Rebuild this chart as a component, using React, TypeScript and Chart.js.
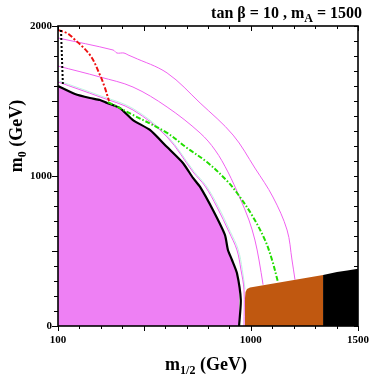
import React, { useEffect, useRef } from "react";
import { Chart, registerables } from "chart.js";

Chart.register(...registerables);

// ---- axes ----
const X_MIN = 100;
const X_MAX = 1500;
const Y_MIN = 0;
const Y_MAX = 2000;
const TICK_STEP = 100;
const xTickLabels = [100, 1000, 1500];
const yTickLabels = [0, 1000, 2000];

// ---- excluded (magenta) region, black boundary ----
const boundaryX = [100, 179, 249, 296, 329, 389, 450, 529, 609, 683, 730, 763, 823, 879, 893, 912, 935, 953, 945];
const boundaryY = [1600, 1547, 1520, 1507, 1487, 1453, 1373, 1307, 1193, 1087, 987, 927, 773, 607, 507, 440, 353, 173, 0];

// ---- thin magenta contours ----
const innerX = [100, 296, 450, 609, 730, 786, 842, 898, 935, 954, 968, 968];
const innerY = [1627, 1527, 1440, 1260, 1027, 933, 793, 627, 507, 373, 240, 0];

const cyanX = [100, 296, 450, 609, 735, 791, 848, 904, 941, 960, 973];
const cyanY = [1636, 1536, 1450, 1270, 1030, 936, 796, 630, 510, 376, 245];

const middleX = [100, 296, 450, 609, 763, 833, 893, 949, 991, 1019, 1038, 1057];
const middleY = [1733, 1660, 1593, 1460, 1287, 1173, 1027, 853, 707, 573, 440, 275];

const outerX = [100, 357, 375, 408, 427, 450, 609, 763, 917, 1019, 1103, 1169, 1192, 1206];
const outerY = [1920, 1840, 1820, 1820, 1807, 1793, 1687, 1487, 1273, 1053, 860, 640, 440, 308];

// ---- green dash-dot ----
const greenX = [333, 450, 609, 702, 795, 889, 949, 1010, 1066, 1099, 1127];
const greenY = [1493, 1407, 1287, 1187, 1093, 967, 860, 727, 573, 440, 290];

// ---- red dash-dot ----
const redX = [100, 142, 165, 249, 296, 319, 338];
const redY = [1973, 1953, 1927, 1807, 1673, 1587, 1500];

// ---- black dotted ----
const dottedX = [114, 123];
const dottedY = [1973, 1600];

// ---- brown region ----
const brownX = [972, 972, 975, 982, 996, 1010, 1337, 1337];
const brownY = [0, 173, 227, 247, 257, 260, 340, 0];

// ---- black region ----
const blackX = [1337, 1337, 1402, 1450, 1500, 1500];
const blackY = [0, 340, 360, 370, 382, 0];

const pts = (xs: number[], ys: number[]) => xs.map((x, i) => ({ x, y: ys[i] }));

const SERIF = '"Liberation Serif", "Times New Roman", serif';

const decor = {
  id: "decor",
  afterDatasetsDraw(chart: any) {
    const { ctx, chartArea: a, scales } = chart;
    const xs = scales.x;
    const ys = scales.y;
    ctx.save();
    ctx.strokeStyle = "#000";
    ctx.fillStyle = "#000";
    const seg = (x1: number, y1: number, x2: number, y2: number) => {
      ctx.beginPath();
      ctx.moveTo(x1, y1);
      ctx.lineTo(x2, y2);
      ctx.stroke();
    };
    // ticks
    ctx.lineWidth = 1;
    for (let v = X_MIN; v <= X_MAX; v += TICK_STEP) {
      const px = Math.round(xs.getPixelForValue(v)) + 0.5;
      const major = xTickLabels.includes(v) || v % 500 === 0;
      const len = major ? 5 : 3;
      seg(px, a.bottom, px, a.bottom + len);
      seg(px, a.top, px, a.top + len);
    }
    for (let v = Y_MIN; v <= Y_MAX; v += TICK_STEP) {
      const py = Math.round(ys.getPixelForValue(v)) + 0.5;
      const major = yTickLabels.includes(v) || v % 500 === 0;
      const len = major ? 6 : 4;
      seg(a.left - len, py, a.left, py);
      seg(a.right - 4, py, a.right, py);
    }
    // frame
    ctx.lineWidth = 1.6;
    ctx.strokeRect(a.left, a.top, a.right - a.left, a.bottom - a.top);

    // tick labels
    ctx.font = `bold 11px ${SERIF}`;
    ctx.textAlign = "center";
    ctx.textBaseline = "top";
    xTickLabels.forEach((v) => {
      ctx.fillText(String(v), xs.getPixelForValue(v), a.bottom + 9);
    });
    ctx.textAlign = "right";
    ctx.textBaseline = "middle";
    yTickLabels.forEach((v) => {
      ctx.fillText(String(v), a.left - 6, ys.getPixelForValue(v));
    });

    const drawParts = (parts: [string, number, number][], align: "center" | "right", x: number, y: number) => {
      let total = 0;
      const widths = parts.map(([t, s]) => {
        ctx.font = `bold ${s}px ${SERIF}`;
        const w = ctx.measureText(t).width;
        total += w;
        return w;
      });
      let cx = align === "center" ? x - total / 2 : x - total;
      ctx.textAlign = "left";
      ctx.textBaseline = "alphabetic";
      parts.forEach(([t, s, dy], i) => {
        ctx.font = `bold ${s}px ${SERIF}`;
        ctx.fillText(t, cx, y + dy);
        cx += widths[i];
      });
    };

    // title
    drawParts(
      [
        ["tan \u03b2 = 10 , m", 16, 0],
        ["A", 12, 4],
        [" = 1500", 16, 0],
      ],
      "right",
      362,
      18
    );

    // x axis label
    drawParts(
      [
        ["m", 18, 0],
        ["1/2", 12, 4],
        [" (GeV)", 18, 0],
      ],
      "center",
      206,
      370
    );

    // y axis label
    ctx.save();
    ctx.translate(22, 136);
    ctx.rotate(-Math.PI / 2);
    drawParts(
      [
        ["m", 18, 0],
        ["0", 12, 4],
        [" (GeV)", 18, 0],
      ],
      "center",
      0,
      0
    );
    ctx.restore();

    ctx.restore();
  },
};

export default function App() {
  const ref = useRef<HTMLCanvasElement | null>(null);

  useEffect(() => {
    document.body.style.margin = "0";
    const canvas = ref.current;
    if (!canvas) return;
    const base = { pointRadius: 0, tension: 0.35, fill: false };
    const chart = new Chart(canvas, {
      type: "line",
      data: {
        datasets: [
          {
            ...base,
            tension: 0,
            label: "dotted",
            data: pts(dottedX, dottedY),
            borderColor: "#000",
            borderWidth: 2,
            borderDash: [2, 2],
            order: 0,
          },
          {
            ...base,
            label: "red",
            data: pts(redX, redY),
            borderColor: "#ee1111",
            borderWidth: 2,
            borderDash: [5, 2, 2, 2],
            order: 1,
          },
          {
            ...base,
            label: "green",
            data: pts(greenX, greenY),
            borderColor: "#22dd00",
            borderWidth: 2,
            borderDash: [5, 2, 1.5, 2],
            order: 2,
          },
          {
            ...base,
            label: "outer",
            data: pts(outerX, outerY),
            borderColor: "#f060f0",
            borderWidth: 1,
            order: 3,
          },
          {
            ...base,
            label: "middle",
            data: pts(middleX, middleY),
            borderColor: "#f060f0",
            borderWidth: 1,
            order: 4,
          },
          {
            ...base,
            label: "cyan",
            data: pts(cyanX, cyanY),
            borderColor: "#bff2e2",
            borderWidth: 1,
            order: 6,
          },
          {
            ...base,
            label: "inner",
            data: pts(innerX, innerY),
            borderColor: "#f060f0",
            borderWidth: 1,
            order: 5,
          },
          {
            ...base,
            tension: 0.2,
            label: "excluded",
            data: pts(boundaryX, boundaryY),
            borderColor: "#000",
            borderWidth: 2.2,
            backgroundColor: "#ee80f4",
            fill: "origin",
            order: 7,
          },
          {
            ...base,
            tension: 0,
            label: "brown",
            data: pts(brownX, brownY),
            borderWidth: 0,
            borderColor: "rgba(0,0,0,0)",
            backgroundColor: "#c05810",
            fill: "origin",
            order: 8,
          },
          {
            ...base,
            tension: 0,
            label: "black",
            data: pts(blackX, blackY),
            borderWidth: 0,
            borderColor: "rgba(0,0,0,0)",
            backgroundColor: "#000",
            fill: "origin",
            order: 9,
          },
        ],
      },
      options: {
        responsive: false,
        animation: false,
        events: [],
        layout: { padding: { left: 58, right: 11, top: 26, bottom: 56 } },
        plugins: {
          legend: { display: false },
          tooltip: { enabled: false },
          title: { display: false },
        },
        scales: {
          x: { type: "linear", min: X_MIN, max: X_MAX, display: false },
          y: { type: "linear", min: Y_MIN, max: Y_MAX, display: false },
        },
      },
      plugins: [decor],
    });
    return () => chart.destroy();
  }, []);

  return (
    <div style={{ width: 369, height: 382, background: "#fff" }}>
      <canvas ref={ref} width={369} height={382} style={{ display: "block" }} />
    </div>
  );
}
